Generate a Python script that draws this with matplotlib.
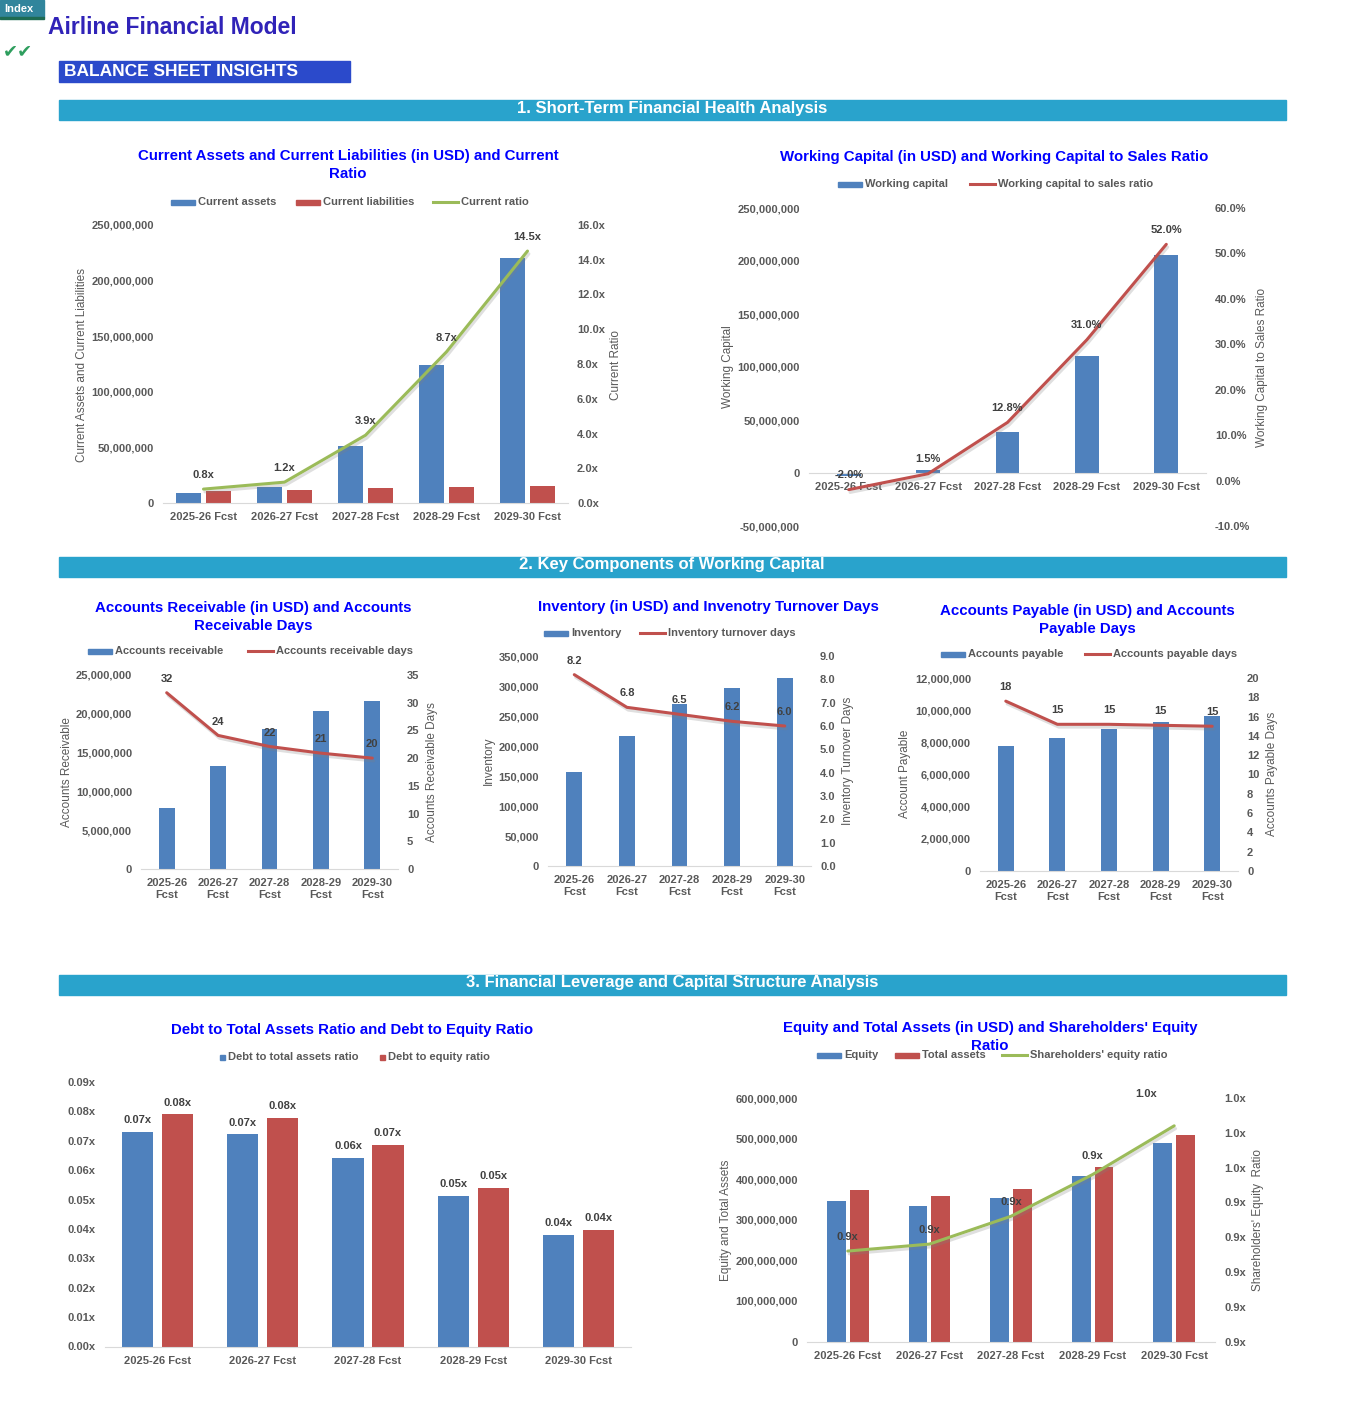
import numpy as np
import matplotlib
matplotlib.use('Agg')
import matplotlib.pyplot as plt
import matplotlib.ticker as ticker
import matplotlib.patheffects as pe
from matplotlib.patches import Rectangle

plt.rcParams['font.family'] = ['Liberation Sans', 'DejaVu Sans']
plt.rcParams['font.weight'] = 'bold'

W, H = 1348, 1412

# ---- data ----
years = ['2025-26 Fcst', '2026-27 Fcst', '2027-28 Fcst', '2028-29 Fcst', '2029-30 Fcst']
years2 = [y.replace(' ', '\n') for y in years]

current_assets = [9.0e6, 14.4e6, 51.0e6, 124.0e6, 220.0e6]
current_liabilities = [11.2e6, 12.0e6, 13.1e6, 14.2e6, 15.2e6]
current_ratio = [0.8, 1.2, 3.9, 8.7, 14.5]

working_capital = [-2.5e6, 3.1e6, 38.7e6, 110.4e6, 206.0e6]
wc_to_sales = [-2.0, 1.5, 12.8, 31.0, 52.0]

receivables = [7.86e6, 13.27e6, 18.04e6, 20.4e6, 21.65e6]
receivable_days = [31.8, 24.1, 22.1, 20.9, 20.0]

inventory = [156.7e3, 216.7e3, 270.0e3, 296.7e3, 312.8e3]
inventory_days = [8.2, 6.8, 6.5, 6.2, 6.0]

payables = [7.77e6, 8.27e6, 8.83e6, 9.27e6, 9.64e6]
payable_days = [17.6, 15.2, 15.2, 15.1, 15.0]

debt_to_assets = [0.0731, 0.0722, 0.0641, 0.0512, 0.0379]
debt_to_equity = [0.0790, 0.0777, 0.0685, 0.0539, 0.0397]

equity = [346e6, 334e6, 353.5e6, 408.5e6, 489e6]
total_assets = [373e6, 358.5e6, 375.7e6, 430.7e6, 508.8e6]
equity_ratio = [0.938, 0.939, 0.943, 0.949, 0.956]

BLUE, RED, GREEN = '#4F81BD', '#C0504D', '#9BBB59'
GRAY, DARK = '#595959', '#404040'
x = np.arange(len(years))

fig = plt.figure(figsize=(W / 100, H / 100), dpi=100)

# overlay in pixel coordinates for headers, titles, legends
ov = fig.add_axes([0, 0, 1, 1])
ov.set_xlim(0, W)
ov.set_ylim(H, 0)
ov.axis('off')


def px_axes(x0, x1, y0, y1):
    return fig.add_axes([x0 / W, 1 - y1 / H, (x1 - x0) / W, (y1 - y0) / H])


def style(ax, ylim, ticks, fmt, labels):
    ax.set_facecolor('none')
    for s in ['top', 'left', 'right']:
        ax.spines[s].set_visible(False)
    ax.spines['bottom'].set_color('#D9D9D9')
    ax.set_xlim(-0.5, len(labels) - 0.5)
    ax.set_ylim(*ylim)
    ax.set_yticks(ticks)
    ax.yaxis.set_major_formatter(ticker.FuncFormatter(fmt))
    ax.set_xticks(x)
    ax.set_xticklabels(labels)
    ax.tick_params(length=0, pad=6.5, labelsize=8, labelcolor=GRAY)


def style_right(ax2, ylim, ticks, fmt):
    ax2.set_facecolor('none')
    for s in ax2.spines.values():
        s.set_visible(False)
    ax2.set_ylim(*ylim)
    ax2.set_yticks(ticks)
    ax2.yaxis.set_major_formatter(ticker.FuncFormatter(fmt))
    ax2.tick_params(length=0, pad=6.5, labelsize=8, labelcolor=GRAY)


def draw_line(ax2, vals, color, fmt, offsets=None):
    ax2.plot(x, vals, color=color, lw=2.2, solid_capstyle='round',
             path_effects=[pe.SimpleLineShadow(offset=(1, -2), shadow_color='gray', alpha=0.25),
                           pe.Normal()])
    if offsets is None:
        offsets = [(0, 10)] * len(vals)
    for xi, v, off in zip(x, vals, offsets):
        ax2.annotate(fmt(v), (xi, v), xytext=off, textcoords='offset points',
                     ha='center', va='center', fontsize=8, color=DARK)


def title(cx, y, text):
    ov.text(cx, y, text, ha='center', va='center', fontsize=10.8, color='#0000FF',
            fontweight='bold', linespacing=1.3)


def leg_bar(x0, y, label, color, w=24, h=5):
    ov.add_patch(Rectangle((x0, y - h / 2), w, h, color=color))
    ov.text(x0 + w + 3, y, label, va='center', ha='left', fontsize=8, color=GRAY)


def leg_line(x0, y, label, color):
    ov.plot([x0, x0 + 25], [y, y], color=color, lw=2.2)
    ov.text(x0 + 28, y, label, va='center', ha='left', fontsize=8, color=GRAY)


def ytitle(xc, yc, text):
    ov.text(xc, yc, text, rotation=90, ha='center', va='center', fontsize=8.5,
            color=GRAY, fontweight='normal')


def money(v, p=None):
    return f'{v:,.0f}'


def round_half(v, d=1):
    return np.floor(v * 10 ** d + 0.5 + 1e-9) / 10 ** d


# ---- header ----
ov.add_patch(Rectangle((0, 0), 44, 17, color='#31859C'))
ov.add_patch(Rectangle((0, 17), 44, 2, color='#1E6B52'))
ov.text(19, 8.5, 'Index', color='white', fontsize=8, ha='center', va='center')
ov.text(48, 27, 'Airline Financial Model', color='#3023B8', fontsize=16.5, va='center')
ov.text(3, 51, '\u2714\u2714', color='#2E9E5E', fontsize=13, va='center',
        family=['DejaVu Sans'], fontweight='normal', style='italic')
ov.add_patch(Rectangle((59, 61), 291, 21, color='#2B4ACB'))
ov.text(64, 72, 'BALANCE SHEET INSIGHTS', color='white', fontsize=12.5, va='center')

sections = [(100, '1. Short-Term Financial Health Analysis'),
            (557, '2. Key Components of Working Capital'),
            (975, '3. Financial Leverage and Capital Structure Analysis')]
for y0, txt in sections:
    ov.add_patch(Rectangle((59, y0), 1227, 20, color='#29A3CC'))
    ov.text(672, y0 + 8, txt, color='white', fontsize=12, ha='center', va='center')

# ---- 1. current assets / liabilities ----
ax = px_axes(163, 568, 225, 503)
style(ax, (0, 250e6), np.arange(0, 250e6 + 1, 50e6), money, years)
ax.bar(x - 0.19, current_assets, width=0.31, color=BLUE)
ax.bar(x + 0.19, current_liabilities, width=0.31, color=RED)
ax2 = ax.twinx()
style_right(ax2, (0, 16), np.arange(0, 17, 2), lambda v, p: f'{v:.1f}x')
draw_line(ax2, current_ratio, GREEN, lambda v: f'{v:.1f}x')
title(348, 165, 'Current Assets and Current Liabilities (in USD) and Current\nRatio')
leg_bar(171, 202, 'Current assets', BLUE)
leg_bar(296, 202, 'Current liabilities', RED)
leg_line(433, 202, 'Current ratio', GREEN)
ytitle(82, 365, 'Current Assets and Current Liabilities')
ytitle(616, 365, 'Current Ratio')

# ---- 1b. working capital ----
ax = px_axes(809, 1206, 208, 526)
style(ax, (-50e6, 250e6), np.arange(-50e6, 250e6 + 1, 50e6), money, years)
ax.spines['bottom'].set_position(('data', 0))
ax.bar(x, working_capital, width=0.30, color=BLUE)
ax2 = ax.twinx()
style_right(ax2, (-10, 60), np.arange(-10, 61, 10), lambda v, p: f'{v:.1f}%')
draw_line(ax2, wc_to_sales, RED, lambda v: f'{v:.1f}%', [(0, 10.5)] * 5)
title(994, 157, 'Working Capital (in USD) and Working Capital to Sales Ratio')
leg_bar(838, 184, 'Working capital', BLUE)
leg_line(970, 184, 'Working capital to sales ratio', RED)
ytitle(728, 367, 'Working Capital')
ytitle(1262, 367, 'Working Capital to Sales Ratio')

# ---- 2a. receivables ----
ax = px_axes(141, 398, 675, 869)
style(ax, (0, 25e6), np.arange(0, 25e6 + 1, 5e6), money, years2)
ax.bar(x, receivables, width=0.31, color=BLUE)
ax2 = ax.twinx()
style_right(ax2, (0, 35), np.arange(0, 36, 5), lambda v, p: f'{v:.0f}')
draw_line(ax2, receivable_days, RED, lambda v: f'{v:.0f}')
title(253, 617, 'Accounts Receivable (in USD) and Accounts\nReceivable Days')
leg_bar(88, 651, 'Accounts receivable', BLUE)
leg_line(248, 651, 'Accounts receivable days', RED)
ytitle(67, 772, 'Accounts Receivable')
ytitle(432, 772, 'Accounts Receivable Days')

# ---- 2b. inventory ----
ax = px_axes(548, 811, 656, 866)
style(ax, (0, 350e3), np.arange(0, 350e3 + 1, 50e3), money, years2)
ax.bar(x, inventory, width=0.30, color=BLUE)
ax2 = ax.twinx()
style_right(ax2, (0, 9), np.arange(0, 10, 1), lambda v, p: f'{v:.1f}')
draw_line(ax2, inventory_days, RED, lambda v: f'{v:.1f}')
title(708, 607, 'Inventory (in USD) and Invenotry Turnover Days')
leg_bar(544, 633, 'Inventory', BLUE)
leg_line(640, 633, 'Inventory turnover days', RED)
ytitle(489, 761, 'Inventory')
ytitle(848, 761, 'Inventory Turnover Days')

# ---- 2c. payables ----
ax = px_axes(980, 1238, 678, 871)
style(ax, (0, 12e6), np.arange(0, 12e6 + 1, 2e6), money, years2)
ax.bar(x, payables, width=0.31, color=BLUE)
ax2 = ax.twinx()
style_right(ax2, (0, 20), np.arange(0, 21, 2), lambda v, p: f'{v:.0f}')
draw_line(ax2, payable_days, RED, lambda v: f'{v:.0f}')
title(1087, 620, 'Accounts Payable (in USD) and Accounts\nPayable Days')
leg_bar(941, 654, 'Accounts payable', BLUE)
leg_line(1085, 654, 'Accounts payable days', RED)
ytitle(905, 774, 'Account Payable')
ytitle(1272, 774, 'Accounts Payable Days')

# ---- 3a. debt ratios ----
ax = px_axes(105, 631, 1082, 1346.5)
style(ax, (0, 0.09), np.arange(0, 0.0901, 0.01), lambda v, p: f'{v:.2f}x', years)
b1 = ax.bar(x - 0.19, debt_to_assets, width=0.295, color=BLUE)
b2 = ax.bar(x + 0.19, debt_to_equity, width=0.295, color=RED)
for bars, vals in [(b1, debt_to_assets), (b2, debt_to_equity)]:
    for r, v in zip(bars, vals):
        ax.annotate(f'{v:.2f}x', (r.get_x() + r.get_width() / 2, v), xytext=(0, 8.5),
                    textcoords='offset points', ha='center', va='center',
                    fontsize=8, color=DARK)
title(352, 1030, 'Debt to Total Assets Ratio and Debt to Equity Ratio')
leg_bar(220, 1057, 'Debt to total assets ratio', BLUE, w=5, h=5)
leg_bar(380, 1057, 'Debt to equity ratio', RED, w=5, h=5)

# ---- 3b. equity / total assets ----
ax = px_axes(807, 1215, 1098, 1341.5)
style(ax, (0, 600e6), np.arange(0, 600e6 + 1, 100e6), money, years)
ax.bar(x - 0.14, equity, width=0.23, color=BLUE)
ax.bar(x + 0.14, total_assets, width=0.23, color=RED)
ax2 = ax.twinx()
style_right(ax2, (0.925, 0.96), np.linspace(0.925, 0.96, 8),
            lambda v, p: f'{round_half(v):.1f}x')
draw_line(ax2, equity_ratio, GREEN, lambda v: f'{round_half(v):.1f}x',
          [(0, 10), (0, 10), (0, 10), (0, 13), (-20, 23)])
title(990, 1037, "Equity and Total Assets (in USD) and Shareholders' Equity\nRatio")
leg_bar(817, 1055, 'Equity', BLUE)
leg_bar(895, 1055, 'Total assets', RED)
leg_line(1002, 1055, "Shareholders' equity ratio", GREEN)
ytitle(726, 1220, 'Equity and Total Assets')
ytitle(1258, 1220, "Shareholders' Equity  Ratio")

fig.savefig('out.png', dpi=100)
